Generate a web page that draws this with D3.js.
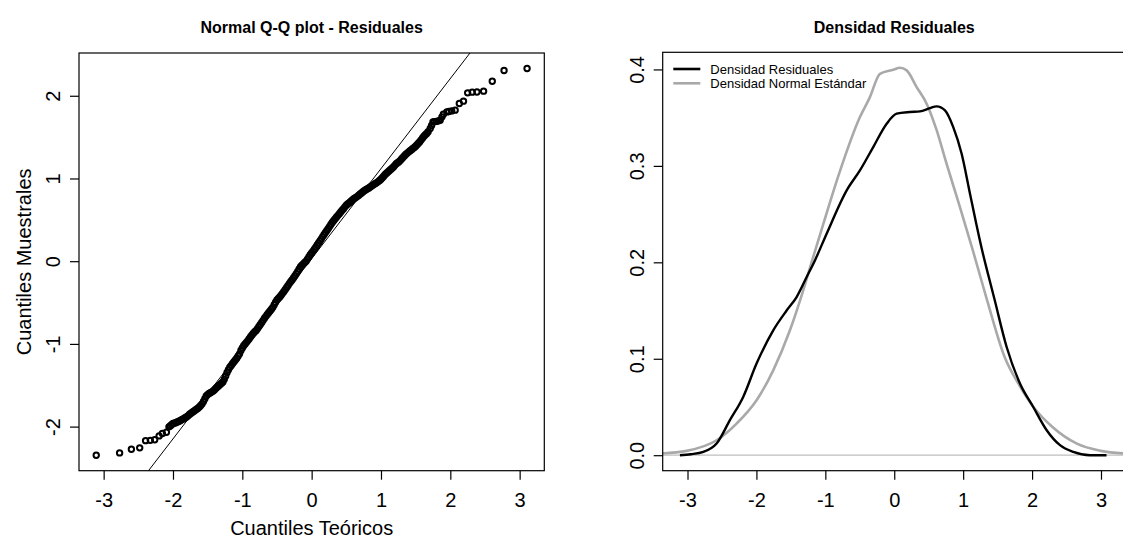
<!DOCTYPE html>
<html>
<head>
<meta charset="utf-8">
<script src="https://cdn.jsdelivr.net/npm/d3@7"></script>
<style>
  body { margin: 0; background: #fff; }
  svg { display: block; font-family: "Liberation Sans", Arial, sans-serif; }
</style>
</head>
<body>
<svg id="chart" width="1123" height="538"></svg>
<script>
(function () {
    'use strict';

    // ---- Q-Q plot data (theoretical vs sample quantiles)
    const qqTheo = [
        -3.107, -2.77, -2.60, -2.48, -2.395, -2.327, -2.264, -2.20, -2.153, -2.095, -2.058,
        -2.04, -2.02, -2.00, -1.98, -1.96, -1.94, -1.92, -1.90, -1.88, -1.86, -1.84, -1.82,
        -1.80, -1.78, -1.76, -1.74, -1.72, -1.70, -1.68, -1.66, -1.64, -1.62, -1.60, -1.58,
        -1.56, -1.54, -1.52, -1.50, -1.48, -1.46, -1.44, -1.42, -1.40, -1.38, -1.36, -1.34,
        -1.32, -1.30, -1.28, -1.26, -1.24, -1.22, -1.20, -1.18, -1.16, -1.14, -1.12, -1.10,
        -1.08, -1.06, -1.04, -1.02, -1.00, -0.98, -0.96, -0.94, -0.92, -0.90, -0.88, -0.86,
        -0.84, -0.82, -0.80, -0.78, -0.76, -0.74, -0.72, -0.70, -0.68, -0.66, -0.64, -0.62,
        -0.60, -0.58, -0.56, -0.54, -0.52, -0.50, -0.48, -0.46, -0.44, -0.42, -0.40, -0.38,
        -0.36, -0.34, -0.32, -0.30, -0.28, -0.26, -0.24, -0.22, -0.20, -0.18, -0.16, -0.14,
        -0.12, -0.10, -0.08, -0.06, -0.04, -0.02, 0.00, 0.02, 0.04, 0.06, 0.08, 0.10,
        0.12, 0.14, 0.16, 0.18, 0.20, 0.22, 0.24, 0.26, 0.28, 0.30, 0.32, 0.34,
        0.36, 0.38, 0.40, 0.42, 0.44, 0.46, 0.48, 0.50, 0.52, 0.54, 0.56, 0.58,
        0.60, 0.62, 0.64, 0.66, 0.68, 0.70, 0.72, 0.74, 0.76, 0.78, 0.80, 0.82,
        0.84, 0.86, 0.88, 0.90, 0.92, 0.94, 0.96, 0.98, 1.00, 1.02, 1.04, 1.06,
        1.08, 1.10, 1.12, 1.14, 1.16, 1.18, 1.20, 1.22, 1.24, 1.26, 1.28, 1.30,
        1.32, 1.34, 1.36, 1.38, 1.40, 1.42, 1.44, 1.46, 1.48, 1.50, 1.52, 1.54,
        1.56, 1.58, 1.60, 1.62, 1.64,
        1.66, 1.68, 1.71, 1.73, 1.75, 1.77, 1.80, 1.83, 1.854, 1.88, 1.90, 1.95, 1.98,
        2.02, 2.07, 2.13, 2.19, 2.25, 2.316, 2.384, 2.48, 2.605, 2.775, 3.107
    ];
    const qqSample = [
        -2.346, -2.318, -2.273, -2.257, -2.170, -2.166, -2.158, -2.112, -2.084, -2.068, -2.003,
        -1.992, -1.978, -1.963, -1.958, -1.952, -1.945, -1.938, -1.930, -1.920, -1.910, -1.900, -1.890,
        -1.880, -1.867, -1.850, -1.838, -1.826, -1.815, -1.803, -1.791, -1.778, -1.763, -1.745, -1.725,
        -1.695, -1.663, -1.630, -1.613, -1.600, -1.590, -1.580, -1.568, -1.553, -1.536, -1.520, -1.505,
        -1.490, -1.475, -1.460, -1.427, -1.388, -1.345, -1.312, -1.283, -1.260, -1.237, -1.215, -1.195,
        -1.172, -1.147, -1.120, -1.080, -1.050, -1.022, -1.002, -0.981, -0.960, -0.937, -0.914, -0.892,
        -0.872, -0.854, -0.838, -0.815, -0.790, -0.765, -0.740, -0.715, -0.690, -0.667, -0.644, -0.622,
        -0.601, -0.580, -0.558, -0.527, -0.497, -0.468, -0.451, -0.432, -0.412, -0.389, -0.366, -0.343,
        -0.318, -0.293, -0.268, -0.246, -0.223, -0.200, -0.175, -0.150, -0.125, -0.095, -0.068, -0.048,
        -0.032, -0.016, 0.000, 0.025, 0.050, 0.078, 0.100, 0.122, 0.145, 0.170, 0.195, 0.220,
        0.245, 0.270, 0.297, 0.322, 0.347, 0.372, 0.396, 0.421, 0.446, 0.470, 0.493, 0.513,
        0.534, 0.554, 0.575, 0.595, 0.615, 0.635, 0.657, 0.677, 0.692, 0.705, 0.720, 0.735,
        0.748, 0.761, 0.772, 0.784, 0.797, 0.812, 0.825, 0.839, 0.852, 0.863, 0.873, 0.882,
        0.894, 0.906, 0.918, 0.929, 0.940, 0.950, 0.962, 0.975, 0.990, 1.008, 1.028, 1.048,
        1.064, 1.079, 1.093, 1.108, 1.123, 1.140, 1.159, 1.178, 1.190, 1.203, 1.219, 1.238,
        1.256, 1.274, 1.292, 1.307, 1.322, 1.335, 1.348, 1.362, 1.375, 1.390, 1.407, 1.425,
        1.445, 1.467, 1.490, 1.510, 1.528,
        1.545, 1.565, 1.605, 1.640, 1.684, 1.687, 1.690, 1.697, 1.705, 1.745, 1.777, 1.805, 1.810,
        1.817, 1.826, 1.907, 1.935, 2.035, 2.044, 2.046, 2.056, 2.176, 2.306, 2.330
    ];
    const qqLineIntercept = 0.03;
    const qqLineSlope = 1.089;
    const qqXTicks = [-3, -2, -1, 0, 1, 2, 3];
    const qqYTicks = [-2, -1, 0, 1, 2];

    // ---- Density plot data
    const residX = [
        -3.11, -2.95, -2.77, -2.578, -2.385, -2.192, -1.998, -1.756, -1.562, -1.417, -1.271,
        -1.151, -0.981, -0.69, -0.498, -0.305, -0.11, 0.035, 0.228, 0.373, 0.518, 0.615, 0.736,
        0.856, 0.978, 1.099, 1.19, 1.27, 1.36, 1.45, 1.631, 1.824, 2.017, 2.212, 2.405,
        2.598, 2.84, 3.08
    ];
    const residY = [
        0.000, 0.001, 0.0034, 0.0121, 0.0363, 0.0604, 0.095, 0.1295, 0.150, 0.164, 0.1848,
        0.202, 0.2297, 0.2746, 0.2953, 0.3195, 0.3437, 0.3541, 0.3558, 0.3565, 0.3599, 0.3617, 0.3575,
        0.3402, 0.3126, 0.2712, 0.240, 0.214, 0.188, 0.163, 0.1122, 0.0743, 0.050, 0.0259, 0.0104,
        0.0034, 0.000, 0.000
    ];
    const normX = [
        -3.40, -3.013, -2.578, -2.288, -1.998, -1.756, -1.514, -1.321, -1.20, -1.05, -0.80,
        -0.498, -0.353, -0.208, -0.015, 0.083, 0.18, 0.325, 0.47, 0.615, 0.76, 0.95, 1.15,
        1.35, 1.60, 1.82, 2.02, 2.30, 2.65, 3.00, 3.40
    ];
    const normY = [
        0.0017, 0.0045, 0.0155, 0.0328, 0.057, 0.088, 0.1295, 0.171, 0.200, 0.235, 0.292,
        0.3506, 0.3713, 0.3955, 0.3997, 0.4017, 0.399, 0.3817, 0.3645, 0.337, 0.302, 0.258, 0.210,
        0.160, 0.102, 0.072, 0.050, 0.029, 0.012, 0.0045, 0.0015
    ];
    const densXTicks = [-3, -2, -1, 0, 1, 2, 3];
    const densYTicks = [0, 0.1, 0.2, 0.3, 0.4];
    const legendLabels = ["Densidad Residuales", "Densidad Normal Estándar"];
    const legendColors = ["#000000", "#a9a9a9"];

    const svg = d3.select('#chart');
    const tickFontSize = 20;

    // R style range padding (4%)
    const padRange = ext => {
        const d = (ext[1] - ext[0]) * 0.04;
        return [ext[0] - d, ext[1] + d];
    };

    // ================= left panel: Q-Q plot =================
    const qqBox = {left: 79, right: 544.3, top: 53, bottom: 470.7};
    const xQQ = d3.scaleLinear().domain(padRange(d3.extent(qqTheo))).range([qqBox.left, qqBox.right]);
    const yQQ = d3.scaleLinear().domain(padRange(d3.extent(qqSample))).range([qqBox.bottom, qqBox.top]);

    svg.append("clipPath").attr("id", "clipQQ")
        .append("rect")
        .attr("x", qqBox.left).attr("y", qqBox.top)
        .attr("width", qqBox.right - qqBox.left).attr("height", qqBox.bottom - qqBox.top);

    const qqGroup = svg.append("g");

    const lineX = xQQ.domain();
    qqGroup.append("line")
        .attr("clip-path", "url(#clipQQ)")
        .attr("x1", xQQ(lineX[0])).attr("y1", yQQ(qqLineIntercept + qqLineSlope * lineX[0]))
        .attr("x2", xQQ(lineX[1])).attr("y2", yQQ(qqLineIntercept + qqLineSlope * lineX[1]))
        .attr("stroke", "#000").attr("stroke-width", 1);

    qqGroup.append("g")
        .selectAll("circle")
        .data(d3.zip(qqTheo, qqSample))
        .join("circle")
        .attr("cx", d => xQQ(d[0]))
        .attr("cy", d => yQQ(d[1]))
        .attr("r", 2.7)
        .attr("fill", "none")
        .attr("stroke", "#000")
        .attr("stroke-width", 2);

    drawBox(qqBox, qqBox.right);
    drawXAxis(xQQ, qqXTicks, qqBox, d => String(d));
    drawYAxis(yQQ, qqYTicks, qqBox, d => String(d));

    svg.append("text")
        .attr("x", (qqBox.left + qqBox.right) / 2).attr("y", 33)
        .attr("text-anchor", "middle")
        .style("font-size", "16px").style("font-weight", "bold")
        .text("Normal Q-Q plot - Residuales");

    svg.append("text")
        .attr("x", (qqBox.left + qqBox.right) / 2).attr("y", 535)
        .attr("text-anchor", "middle")
        .style("font-size", "20px")
        .text("Cuantiles Teóricos");

    svg.append("text")
        .attr("transform", `translate(31,${(qqBox.top + qqBox.bottom) / 2}) rotate(-90)`)
        .attr("text-anchor", "middle")
        .style("font-size", "20px")
        .text("Cuantiles Muestrales");

    // ================= right panel: densities =================
    const dBox = {left: 662.7, right: 1125.8, top: 52.3, bottom: 470.7};
    const xD = d3.scaleLinear().domain([-3.36, 3.36]).range([dBox.left, dBox.right]);
    const yD = d3.scaleLinear().domain(padRange([0, d3.max(normY)])).range([dBox.bottom, dBox.top]);

    svg.append("clipPath").attr("id", "clipD")
        .append("rect")
        .attr("x", dBox.left).attr("y", dBox.top)
        .attr("width", dBox.right - dBox.left).attr("height", dBox.bottom - dBox.top);

    const dGroup = svg.append("g").attr("clip-path", "url(#clipD)");

    dGroup.append("line")
        .attr("x1", dBox.left).attr("x2", dBox.right)
        .attr("y1", yD(0)).attr("y2", yD(0))
        .attr("stroke", "#bebebe").attr("stroke-width", 1.2);

    const densLine = d3.line()
            .x(d => xD(d[0]))
            .y(d => yD(d[1]))
            .curve(d3.curveMonotoneX);

    dGroup.append("path")
        .datum(d3.zip(normX, normY))
        .attr("d", densLine)
        .attr("fill", "none")
        .attr("stroke", legendColors[1])
        .attr("stroke-width", 2.6);

    dGroup.append("path")
        .datum(d3.zip(residX, residY))
        .attr("d", densLine)
        .attr("fill", "none")
        .attr("stroke", legendColors[0])
        .attr("stroke-width", 2.4);

    drawBox(dBox, dBox.right);
    drawXAxis(xD, densXTicks, dBox, d => String(d));
    drawYAxis(yD, densYTicks, dBox, d3.format(".1f"));

    svg.append("text")
        .attr("x", (dBox.left + dBox.right) / 2).attr("y", 33)
        .attr("text-anchor", "middle")
        .style("font-size", "16px").style("font-weight", "bold")
        .text("Densidad Residuales");

    const legend = svg.append("g")
            .selectAll("g")
            .data(legendLabels)
            .join("g")
            .attr("transform", (d, i) => `translate(673.3,${69 + i * 14.3})`);

    legend.append("line")
        .attr("x1", 0).attr("x2", 27)
        .attr("stroke", (d, i) => legendColors[i])
        .attr("stroke-width", 2.6);

    legend.append("text")
        .attr("x", 37).attr("y", 4.6)
        .style("font-size", "13px")
        .text(d => d);

    // ---------------- helpers ----------------
    function drawBox(box, right) {
        svg.append("rect")
            .attr("x", box.left).attr("y", box.top)
            .attr("width", right - box.left).attr("height", box.bottom - box.top)
            .attr("fill", "none").attr("stroke", "#000").attr("stroke-width", 1.2);
    }

    function drawXAxis(scale, ticks, box, fmt) {
        const g = svg.append("g")
                .attr("transform", `translate(0,${box.bottom})`)
                .call(d3.axisBottom(scale).tickValues(ticks).tickSize(9).tickFormat(fmt));
        g.select(".domain").remove();
        g.selectAll("line").attr("stroke-width", 1.2);
        g.selectAll("text")
            .attr("y", 36).attr("dy", null)
            .attr("fill", "#000")
            .style("font-size", tickFontSize + "px")
            .style("font-family", "'Liberation Sans', Arial, sans-serif");
    }

    function drawYAxis(scale, ticks, box, fmt) {
        const g = svg.append("g")
                .attr("transform", `translate(${box.left},0)`)
                .call(d3.axisLeft(scale).tickValues(ticks).tickSize(9).tickFormat(fmt));
        g.select(".domain").remove();
        g.selectAll("line").attr("stroke-width", 1.2);
        g.selectAll("text")
            .attr("x", null).attr("dy", null)
            .attr("text-anchor", "middle")
            .attr("transform", "translate(-19,0) rotate(-90)")
            .attr("fill", "#000")
            .style("font-size", tickFontSize + "px")
            .style("font-family", "'Liberation Sans', Arial, sans-serif");
    }

}());
</script>
</body>
</html>
